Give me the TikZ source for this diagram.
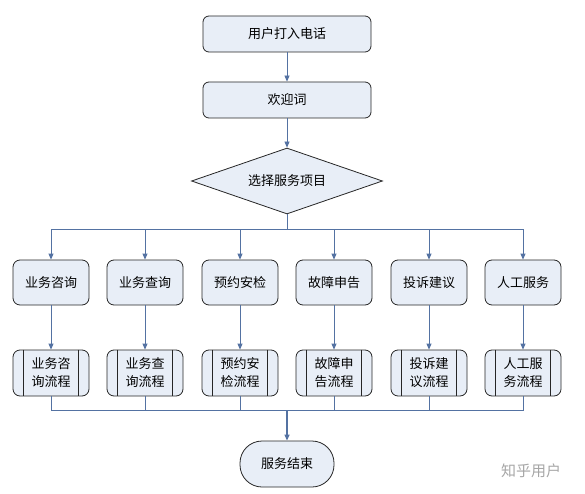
\documentclass[tikz,border=0pt]{standalone}
\usepackage{fontspec}
\setmainfont{Noto Sans CJK SC}
\usetikzlibrary{shapes.geometric, arrows.meta}
\definecolor{boxfill}{RGB}{232,238,247}
\definecolor{flowline}{RGB}{84,114,162}
\tikzset{
    stepbox/.style={draw=black!85, fill=boxfill, rounded corners=6pt, line width=0.8pt,
        minimum width=168pt, minimum height=36pt, inner sep=0pt, font=\fontsize{13}{15}\selectfont},
    itembox/.style={stepbox, minimum width=76pt, minimum height=45pt, rounded corners=7pt},
    procbox/.style={stepbox, minimum width=76pt, minimum height=46pt, rounded corners=7pt,
        align=center, font=\fontsize{13}{18}\selectfont},
    choice/.style={diamond, draw=black!85, fill=boxfill, line width=0.8pt, aspect=2.9,
        minimum width=191pt, minimum height=66pt, inner sep=0pt, font=\fontsize{13}{15}\selectfont},
    endbox/.style={stepbox, minimum width=94pt, minimum height=46pt, rounded corners=22pt},
    arr/.style={draw=flowline, line width=0.8pt, -{Triangle[length=6pt,width=5pt]}},
    flow/.style={draw=flowline, line width=0.8pt},
}
\begin{document}
\begin{tikzpicture}[x=1pt, y=-1pt]
\useasboundingbox (0,0) rectangle (585,494);

\node[stepbox] (call) at (287,34) {用户打入电话};
\node[stepbox] (hello) at (287,100) {欢迎词};
\node[choice] (menu) at (287,181) {选择服务项目};

\coordinate (topbus) at (287,229);
\coordinate (lowbus) at (287,410);

% six service columns
\foreach \n/\x/\item/\proc in {1/51/业务咨询/业务咨\\询流程, 2/145/业务查询/业务查\\询流程,
        3/240/预约安检/预约安\\检流程, 4/334/故障申告/故障申\\告流程,
        5/429/投诉建议/投诉建\\议流程, 6/523/人工服务/人工服\\务流程}{
    \node[itembox] (item\n) at (\x,282.5) {\item};
    \node[procbox] (proc\n) at (\x,373) {\proc};
    \draw[line width=0.8pt, black!85] ([xshift=11pt]proc\n.north west) -- ([xshift=11pt]proc\n.south west);
    \draw[line width=0.8pt, black!85] ([xshift=-11pt]proc\n.north east) -- ([xshift=-11pt]proc\n.south east);
    \draw[arr] (menu.south) -- (topbus) -| (item\n.north);
    \draw[arr] (item\n.south) -- (proc\n.north);
    \draw[flow] (proc\n.south) |- (lowbus);
}

\node[endbox] (done) at (287,464) {服务结束};

\draw[arr] (call) -- (hello);
\draw[arr] (hello) -- (menu);
\draw[arr, line width=1.2pt] (lowbus) -- (done);

\node[text=black!35, font=\fontsize{15}{17}\selectfont] (mark) at (531,471) {知乎用户};
\end{tikzpicture}
\end{document}
